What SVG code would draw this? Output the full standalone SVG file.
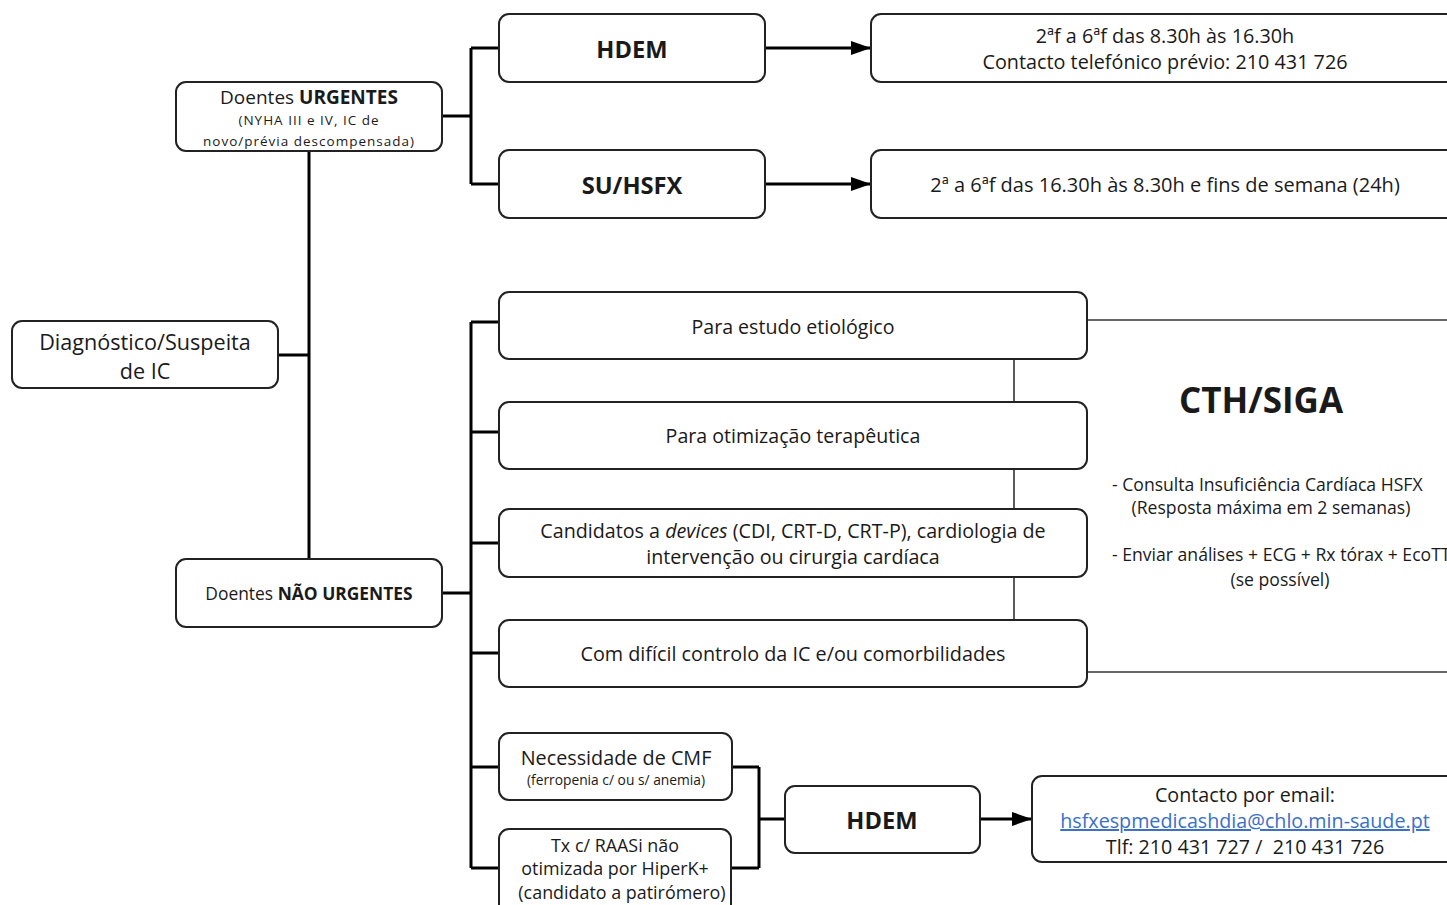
<svg xmlns="http://www.w3.org/2000/svg" width="1447" height="905" viewBox="0 0 1447 905">
<defs>
<marker id="arrow" viewBox="0 0 20 14" refX="20" refY="7" markerWidth="20" markerHeight="14" markerUnits="userSpaceOnUse" orient="auto">
<path d="M0,0 L20,7 L0,14 z" fill="#000"/>
</marker>
</defs>
<style>
.box{fill:#fff;stroke:#222;stroke-width:2}
.t{font-family:"Open Sans","Liberation Sans",sans-serif;fill:#1a1a1a;text-anchor:middle}
.s{text-anchor:start}
.b{font-weight:bold}
.c{fill:none;stroke:#000;stroke-width:3}
.thin{fill:none;stroke:#333;stroke-width:1.6}
.a{fill:none;stroke:#000;stroke-width:3}
.link{fill:#3a6fc9;text-decoration:underline}
</style>
<rect width="1447" height="905" fill="#fff"/>

<g id="connectors">
<path class="thin" d="M1014,320 H1460 M1014,672 H1460 M1014,320 V672"/>
<path class="c" d="M278,355 H309 M309,151 V559"/>
<path class="c" d="M442,116 H471 M471,48 V184 M471,48 H499 M471,184 H499"/>
<path class="c" d="M442,593 H471 M471,322 V868 M471,322 H499 M471,432 H499 M471,543 H499 M471,653 H499 M471,767 H499 M471,868 H499"/>
<path class="c" d="M732,767 H759 M731,868 H759 M759,767 V868 M759,819 H785"/>
<path class="a" d="M765,48 H871" marker-end="url(#arrow)"/>
<path class="a" d="M765,184 H871" marker-end="url(#arrow)"/>
<path class="a" d="M980,819 H1032" marker-end="url(#arrow)"/>
</g>

<g id="n-diag">
<rect class="box" x="12" y="321" width="266" height="67" rx="10"/>
<text class="t" font-size="21.6" x="145" y="350">Diagnóstico/Suspeita</text>
<text class="t" font-size="21.6" x="145" y="379">de IC</text>
</g>

<g id="n-urgentes">
<rect class="box" x="176" y="82" width="266" height="69" rx="10"/>
<text class="t" font-size="19" x="309" y="104">Doentes <tspan class="b">URGENTES</tspan></text>
<text class="t" font-size="13.5" letter-spacing="1" x="309" y="125">(NYHA III e IV, IC de</text>
<text class="t" font-size="13.5" letter-spacing="1" x="309" y="146">novo/prévia descompensada)</text>
</g>

<g id="n-hdem1">
<rect class="box" x="499" y="14" width="266" height="68" rx="10"/>
<text class="t b" font-size="23.7" x="632" y="57.5">HDEM</text>
</g>

<g id="n-su">
<rect class="box" x="499" y="150" width="266" height="68" rx="10"/>
<text class="t b" font-size="23.7" x="632" y="193.5">SU/HSFX</text>
</g>

<g id="n-hdem1-info">
<rect class="box" x="871" y="14" width="600" height="68" rx="10"/>
<text class="t" font-size="19.8" x="1165" y="43">2ªf a 6ªf das 8.30h às 16.30h</text>
<text class="t" font-size="19.8" x="1165" y="69">Contacto telefónico prévio: 210 431 726</text>
</g>

<g id="n-su-info">
<rect class="box" x="871" y="150" width="600" height="68" rx="10"/>
<text class="t" font-size="20" x="1165" y="192">2ª a 6ªf das 16.30h às 8.30h e fins de semana (24h)</text>
</g>

<g id="n-naourgentes">
<rect class="box" x="176" y="559" width="266" height="68" rx="10"/>
<text class="t" font-size="17.4" x="309" y="600">Doentes <tspan class="b">NÃO URGENTES</tspan></text>
</g>

<g id="n-etiologico">
<rect class="box" x="499" y="292" width="588" height="67" rx="10"/>
<text class="t" font-size="19.6" x="793" y="334">Para estudo etiológico</text>
</g>

<g id="n-otimizacao">
<rect class="box" x="499" y="402" width="588" height="67" rx="10"/>
<text class="t" font-size="19.6" x="793" y="443">Para otimização terapêutica</text>
</g>

<g id="n-devices">
<rect class="box" x="499" y="509" width="588" height="68" rx="10"/>
<text class="t" font-size="19.7" x="793" y="538">Candidatos a <tspan font-style="italic">devices</tspan> (CDI, CRT-D, CRT-P), cardiologia de</text>
<text class="t" font-size="19.7" x="793" y="564">intervenção ou cirurgia cardíaca</text>
</g>

<g id="n-dificil">
<rect class="box" x="499" y="620" width="588" height="67" rx="10"/>
<text class="t" font-size="19.8" x="793" y="661">Com difícil controlo da IC e/ou comorbilidades</text>
</g>

<g id="n-cth">
<text class="t b" font-size="35" x="1261" y="413">CTH/SIGA</text>
<text class="t s" font-size="17.6" x="1112" y="491">- Consulta Insuficiência Cardíaca HSFX</text>
<text class="t" font-size="17.6" x="1271" y="514">(Resposta máxima em 2 semanas)</text>
<text class="t s" font-size="17.6" x="1112" y="561">- Enviar análises + ECG + Rx tórax + EcoTT</text>
<text class="t" font-size="17.6" x="1280" y="586">(se possível)</text>
</g>

<g id="n-cmf">
<rect class="box" x="499" y="733" width="233" height="67" rx="10"/>
<text class="t" font-size="19.8" x="616" y="765">Necessidade de CMF</text>
<text class="t" font-size="13.8" x="616" y="785">(ferropenia c/ ou s/ anemia)</text>
</g>

<g id="n-raasi">
<rect class="box" x="499" y="829" width="232" height="90" rx="10"/>
<text class="t" font-size="17.9" x="615" y="852">Tx c/ RAASi não</text>
<text class="t" font-size="17.9" x="615" y="875">otimizada por HiperK+</text>
<text class="t" font-size="17.9" x="622" y="899">(candidato a patirómero)</text>
</g>

<g id="n-hdem2">
<rect class="box" x="785" y="786" width="195" height="67" rx="10"/>
<text class="t b" font-size="23.7" x="882" y="829">HDEM</text>
</g>

<g id="n-email">
<rect class="box" x="1032" y="776" width="440" height="86" rx="10"/>
<text class="t" font-size="19.7" x="1245" y="802">Contacto por email:</text>
<text class="t link" font-size="19.7" x="1245" y="828">hsfxespmedicashdia@chlo.min-saude.pt</text>
<text class="t" font-size="19.7" x="1245" y="854">Tlf: 210 431 727 / &#160;210 431 726</text>
</g>
</svg>
